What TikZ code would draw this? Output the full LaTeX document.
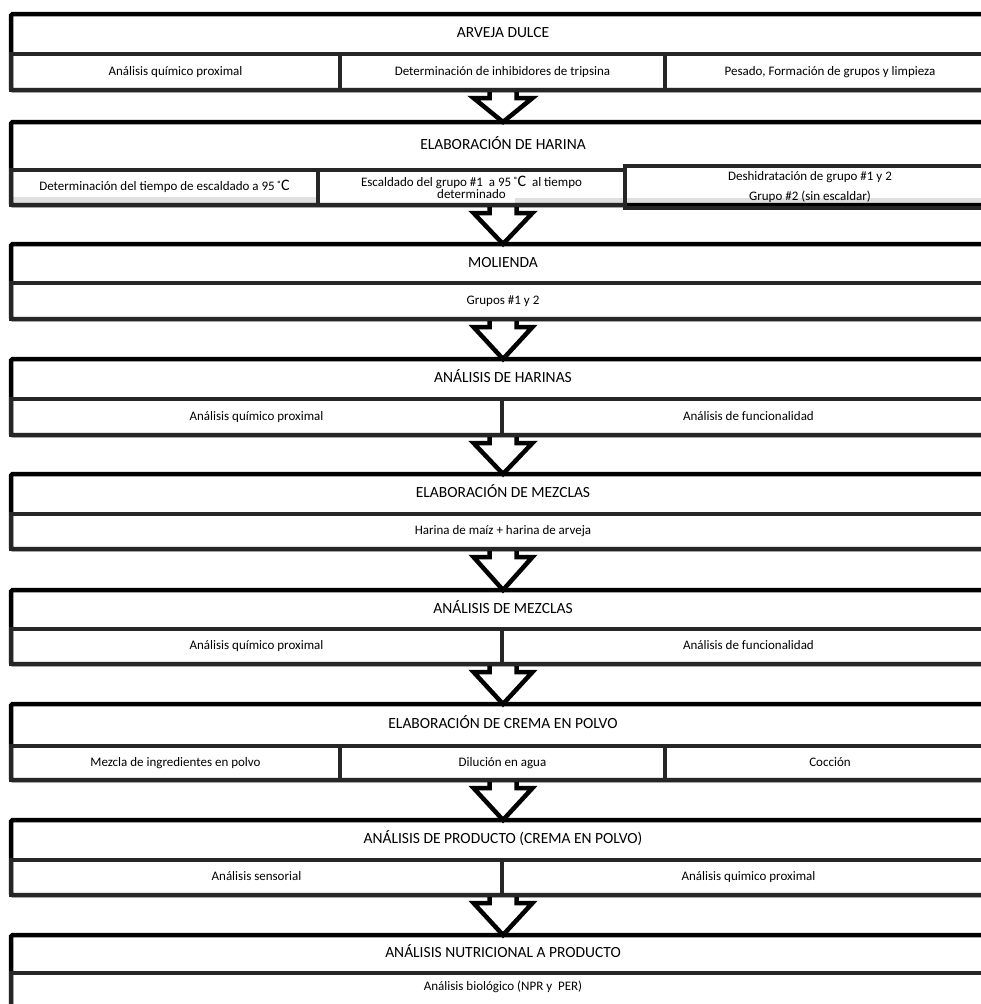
\documentclass[tikz,border=0pt]{standalone}
\usepackage{fontspec}
\setmainfont{Carlito}
\usetikzlibrary{calc,backgrounds}
\newcommand\ttlfnt{\fontsize{15.5}{18}\selectfont}
\newcommand\subfnt{\fontsize{13}{12.5}\selectfont}
\newcommand\bigC{{\fontsize{16}{12}\selectfont C}}
\newcommand\flowarrow[2]{%
  \draw[flow] ($(#1.south)+(-13.5,0)$) -- ++(0,8) -- ++(-16,0)
    -- (#1.south |- #2.north) -- ($(#1.south)+(29.5,8)$) -- ++(-16,0) -- ++(0,-8);}
\begin{document}
\begin{tikzpicture}[x=1pt,y=-1pt,
  box/.style={draw=black, line width=4.5pt, rounded corners=1.5pt, inner sep=0pt,
    outer sep=0pt, minimum width=984pt, anchor=north west},
  cellbase/.style={draw=black!85, line width=3.5pt, inner sep=0pt, outer sep=0pt,
    anchor=north west, align=center, font=\subfnt},
  cell/.style={cellbase, text height=9.5pt, text depth=3pt},
  ttl/.style={font=\ttlfnt, inner sep=0pt, text height=11pt, text depth=3.5pt},
  txt/.style={font=\subfnt, align=center, inner sep=0pt, text height=9.5pt, text depth=3pt},
  flow/.style={draw=black, line width=4.5pt, fill=white, line join=miter},
]
\useasboundingbox (0,0) rectangle (980,1004);

% 1
\node[box, minimum height=76pt] (b1) at (11,14) {};
\node[ttl] (t1) at (503,34) {ARVEJA DULCE};
\node[cell, minimum width=329pt, minimum height=36pt] (c11) at (11,54) {Análisis químico proximal};
\node[cell, minimum width=325pt, minimum height=36pt] (c12) at (340,54) {Determinación de inhibidores de tripsina};
\node[cell, minimum width=330pt, minimum height=36pt] (c13) at (665,54) {Pesado, Formación de grupos y limpieza};

% 2
\node[box, minimum height=83pt] (b2) at (11,122) {};
\node[ttl] (t2) at (503,146) {ELABORACIÓN DE HARINA};
\node[cell, minimum width=307pt, minimum height=35pt] (c21) at (11,170) {Determinación del tiempo de escaldado a 95\,˚\bigC};
\node[cellbase, minimum width=307pt, minimum height=35pt] (c22) at (318,170) {Escaldado del grupo \#1~~a 95\,˚\bigC~~al tiempo\\determinado};
\node[cellbase, minimum width=370pt, minimum height=42pt] (c23) at (625,166) {Deshidratación de grupo \#1 y 2\\[7pt]Grupo \#2 (sin escaldar)};
\begin{scope}[on background layer]
  \fill[black!12] (13,197) rectangle (316,203);
  \fill[black!12] (515,198) rectangle (993,203);
\end{scope}

% 3
\node[box, minimum height=75pt] (b3) at (11,244) {};
\node[ttl] (t3) at (503,263.5) {MOLIENDA};
\node[cell, minimum width=984pt, minimum height=36pt] (c31) at (11,283) {Grupos \#1 y 2};

% 4
\node[box, minimum height=76pt] (b4) at (11,359) {};
\node[ttl] (t4) at (503,379) {ANÁLISIS DE HARINAS};
\node[cell, minimum width=491pt, minimum height=36pt] (c41) at (11,399) {Análisis químico proximal};
\node[cell, minimum width=493pt, minimum height=36pt] (c42) at (502,399) {Análisis de funcionalidad};

% 5
\node[box, minimum height=75pt] (b5) at (11,474) {};
\node[ttl] (t5) at (503,494) {ELABORACIÓN DE MEZCLAS};
\node[cell, minimum width=984pt, minimum height=35pt] (c51) at (11,514) {Harina de maíz + harina de arveja};

% 6
\node[box, minimum height=74pt] (b6) at (11,590) {};
\node[ttl] (t6) at (503,609.5) {ANÁLISIS DE MEZCLAS};
\node[cell, minimum width=491pt, minimum height=35pt] (c61) at (11,629) {Análisis químico proximal};
\node[cell, minimum width=493pt, minimum height=35pt] (c62) at (502,629) {Análisis de funcionalidad};

% 7
\node[box, minimum height=76pt] (b7) at (11,704) {};
\node[ttl] (t7) at (503,725) {ELABORACIÓN DE CREMA EN POLVO};
\node[cell, minimum width=329pt, minimum height=34pt] (c71) at (11,746) {Mezcla de ingredientes en polvo};
\node[cell, minimum width=325pt, minimum height=34pt] (c72) at (340,746) {Dilución en agua};
\node[cell, minimum width=330pt, minimum height=34pt] (c73) at (665,746) {Cocción};

% 8
\node[box, minimum height=75pt] (b8) at (11,820) {};
\node[ttl] (t8) at (503,840) {ANÁLISIS DE PRODUCTO (CREMA EN POLVO)};
\node[cell, minimum width=491pt, minimum height=35pt] (c81) at (11,860) {Análisis sensorial};
\node[cell, minimum width=493pt, minimum height=35pt] (c82) at (502,860) {Análisis quimico proximal};

% 9
\node[box, minimum height=80pt] (b9) at (11,935) {};
\node[ttl] (t9) at (503,954) {ANÁLISIS NUTRICIONAL A PRODUCTO};
\node[cell, minimum width=984pt, minimum height=42pt] (c91) at (11,973) {};
\node[txt] (x91) at (503,987) {Análisis biológico (NPR y~~PER)};

\begin{scope}[on background layer]
  \flowarrow{b1}{b2}
  \flowarrow{b2}{b3}
  \flowarrow{b3}{b4}
  \flowarrow{b4}{b5}
  \flowarrow{b5}{b6}
  \flowarrow{b6}{b7}
  \flowarrow{b7}{b8}
  \flowarrow{b8}{b9}
\end{scope}
\end{tikzpicture}
\end{document}
